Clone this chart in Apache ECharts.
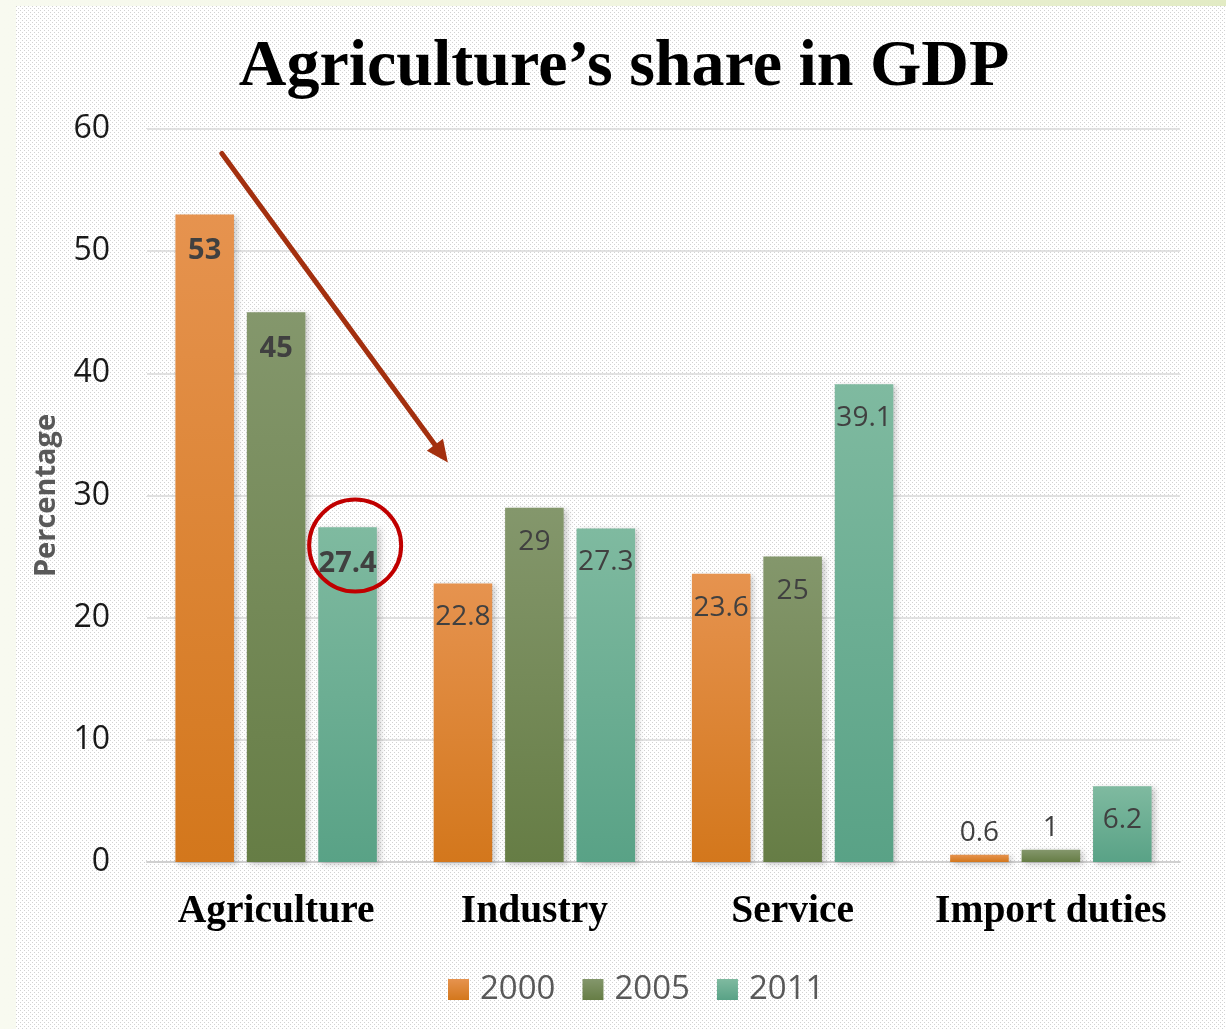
<!DOCTYPE html>
<html>
<head>
<meta charset="utf-8">
<script src="https://cdn.jsdelivr.net/npm/echarts@6/dist/echarts.min.js"></script>
<style>
html,body{margin:0;padding:0;width:1226px;height:1029px;overflow:hidden;}
body{background:linear-gradient(to right,#F8FAF0 0%,#F1F5E0 50%,#E2EBC4 100%);}
#pat{position:absolute;left:16px;top:6px;width:1210px;height:1023px;background-color:#fff;}
#chart{position:absolute;left:0;top:0;width:1226px;height:1029px;}
</style>
</head>
<body>
<div id="pat"></div>
<div id="chart"></div>
<script>
var categories = ['Agriculture', 'Industry', 'Service', 'Import duties'];
var years = ['2000', '2005', '2011'];
var values2000 = [53, 22.8, 23.6, 0.6];
var values2005 = [45, 29, 25, 1];
var values2011 = [27.4, 27.3, 39.1, 6.2];
var yTicks = [0, 10, 20, 30, 40, 50, 60];

// dotted background tile
(function(){
  var c = document.createElement('canvas'); c.width = 4; c.height = 4;
  var g = c.getContext('2d');
  g.fillStyle = '#fff'; g.fillRect(0,0,4,4);
  g.fillStyle = '#d2d2d2';
  g.fillRect(0,0,1,1); g.fillRect(2,2,1,1);
  var el = document.getElementById('pat');
  el.style.backgroundImage = 'url(' + c.toDataURL() + ')';
})();

function grad(top, bottom){
  return new echarts.graphic.LinearGradient(0,0,0,1,[{offset:0,color:top},{offset:1,color:bottom}]);
}
var colors = [grad('#E6934F','#D3771C'), grad('#84976C','#667D45'), grad('#7FBAA0','#59A286')];

function makeData(vals){
  return vals.map(function(v, i){
    var item = {value: v};
    var lab = {};
    if (i === 0) { lab.fontWeight = 'bold'; lab.fontSize = 29; lab.distance = 22; }
    if (v < 3) { lab.position = 'top'; lab.distance = 8; }
    item.label = lab;
    return item;
  });
}

var seriesVals = [values2000, values2005, values2011];
var series = seriesVals.map(function(vals, k){
  return {
    name: years[k],
    type: 'bar',
    barGap: '22%',
    barCategoryGap: '22%',
    data: makeData(vals),
    itemStyle: {
      color: colors[k],
      shadowBlur: 6, shadowOffsetX: 3, shadowOffsetY: 2, shadowColor: 'rgba(0,0,0,0.22)'
    },
    label: {
      show: true, position: 'insideTop', distance: 20,
      fontFamily: 'Open Sans', fontSize: 28, color: '#404040'
    }
  };
});

var chart = echarts.init(document.getElementById('chart'), null, {renderer: 'canvas'});
chart.setOption({
  backgroundColor: 'transparent',
  animation: false,
  title: {
    text: 'Agriculture\u2019s share in GDP',
    left: 619, top: 30, textAlign: 'center',
    textStyle: {fontFamily: 'Liberation Serif', fontWeight: 'bold', fontSize: 66, color: '#000'}
  },
  legend: {
    bottom: 18, left: 443,
    itemWidth: 21, itemHeight: 21, itemGap: 27,
    icon: 'rect',
    textStyle: {fontFamily: 'Open Sans', fontSize: 33, color: '#595959', padding: [0,0,0,6]},
    data: years
  },
  grid: {left: 147, right: 46, top: 129, bottom: 167},
  xAxis: {
    type: 'category', data: categories,
    axisTick: {show: false},
    axisLine: {lineStyle: {color: '#D0D0D0', width: 2}},
    axisLabel: {interval: 0, fontFamily: 'Liberation Serif', fontWeight: 'bold', fontSize: 39.5, color: '#000', margin: 30}
  },
  yAxis: {
    type: 'value', min: yTicks[0], max: yTicks[yTicks.length-1], interval: 10,
    name: 'Percentage', nameLocation: 'middle', nameGap: 86, nameRotate: 90,
    nameTextStyle: {fontFamily: 'Open Sans', fontWeight: 'bold', fontSize: 29, color: '#595959'},
    axisLine: {show: false}, axisTick: {show: false},
    axisLabel: {fontFamily: 'Open Sans', fontSize: 32, color: '#1a1a1a', margin: 37},
    splitLine: {lineStyle: {color: '#D9D9D9', width: 1.5}}
  },
  series: series
});

// annotations anchored to the axes
function px(cat, v){ return chart.convertToPixel({xAxisIndex:0, yAxisIndex:0}, [cat, v]); }
var band = (1226 - 147 - 46) / categories.length;
var a0 = px('Agriculture', 58); var a1 = px('Industry', 32.7);
var sx = a0[0] - band*0.21, sy = a0[1];
var ex = a1[0] - band*0.335, ey = a1[1];
var ang = Math.atan2(ey - sy, ex - sx);
var hl = 22, hw = 10;
var bx = ex - hl*Math.cos(ang), by = ey - hl*Math.sin(ang);
var c0 = px('Agriculture', 25.9);
chart.setOption({
  graphic: [
    {type:'line', shape:{x1:sx, y1:sy, x2:bx, y2:by}, style:{stroke:'#A3300F', lineWidth:5, lineCap:'round'}, z:100},
    {type:'polygon', shape:{points:[[ex,ey],[bx + hw*Math.sin(ang), by - hw*Math.cos(ang)],[bx - hw*Math.sin(ang), by + hw*Math.cos(ang)]]}, style:{fill:'#A3300F'}, z:100},
    {type:'circle', shape:{cx:c0[0] + band*0.306, cy:c0[1], r:46}, style:{fill:'none', stroke:'#C00000', lineWidth:4}, z:100}
  ]
});
</script>
</body>
</html>
